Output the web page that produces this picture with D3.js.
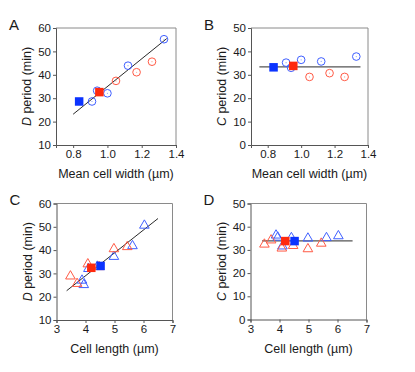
<!DOCTYPE html>
<html lang="en">
<head>
<meta charset="UTF-8">
<title>D and C period vs cell size</title>
<script src="https://d3js.org/d3.v7.min.js"></script>
<style>
  body { margin: 0; background: #fff; }
  svg text { font-family: "Liberation Sans", Arial, sans-serif; fill: #1a1a1a; }
</style>
</head>
<body>
<div id="chart"></div>
<script>
// ---- data ----
// mean cell width (um), open circles
var widthBlue = [0.91, 0.94, 1.00, 1.12, 1.33];
var widthRed = [1.05, 1.17, 1.26];
var dWidthBlue = [28.6, 33.2, 32.1, 43.9, 55.2];
var dWidthRed = [37.4, 41.1, 45.6];
var cWidthBlue = [35.2, 33.0, 36.4, 35.7, 37.8];
var cWidthRed = [29.1, 30.7, 29.1];

// cell length (um), open triangles
var lengthBlue = [3.88, 3.94, 4.10, 4.41, 4.98, 5.62, 6.03];
var lengthRed = [3.48, 3.71, 4.08, 4.47, 4.98, 5.44];
var dLengthBlue = [27.0, 25.1, 32.0, 33.0, 37.2, 41.8, 50.6];
var dLengthRed = [28.8, 25.6, 34.0, 32.8, 40.5, 41.4];
var cLengthBlue = [36.3, 35.4, 31.6, 35.2, 35.0, 35.2, 36.0];
var cLengthRed = [32.4, 34.2, 30.7, 31.8, 30.4, 32.8];

// population means (filled squares): [blue, red]
var meanWidth = [0.835, 0.953];
var meanLength = [4.52, 4.20];
var meanDWidth = [28.6, 32.6];
var meanCWidth = [33.2, 33.8];
var meanDLength = [33.2, 32.4];
var meanCLength = [33.8, 33.8];

// fitted lines: [x0, x1, intercept, slope]
var fitA = [0.80, 1.346, -24.2, 59.2];
var fitB = [0.75, 1.355, 33.4, 0];
var fitC = [3.35, 6.50, -10.4, 9.84];
var fitD = [3.40, 6.52, 33.9, 0];

var xTicksWidth = [0.8, 1.0, 1.2, 1.4];
var xTicksLength = [3, 4, 5, 6, 7];
var yTicksD = [10, 20, 30, 40, 50, 60];
var yTicksC = [0, 10, 20, 30, 40, 50];

var blue = "#3f5fff", red = "#ff5a45";
var blueFill = "#0b33ff", redFill = "#ff2a0e";

var svg = d3.select("#chart").append("svg")
    .attr("width", 415)
    .attr("height", 372);

function panel(p) {
    var g = svg.append("g");
    var x = d3.scaleLinear().domain(p.xDomain).range([p.left, p.left + p.w]);
    var y = d3.scaleLinear().domain(p.yDomain).range([p.top + p.h, p.top]);

    // frame: top and right in lighter grey
    g.append("path")
        .attr("d", "M" + p.left + "," + p.top + "H" + (p.left + p.w) + "V" + (p.top + p.h))
        .attr("fill", "none").attr("stroke", "#8a8a8a").attr("stroke-width", 1);

    var xAxis = g.append("g")
        .attr("transform", "translate(0," + (p.top + p.h) + ")")
        .call(d3.axisBottom(x).tickValues(p.xTicks).tickSize(3).tickPadding(2)
            .tickFormat(p.xFormat));
    var yAxis = g.append("g")
        .attr("transform", "translate(" + p.left + ",0)")
        .call(d3.axisLeft(y).tickValues(p.yTicks).tickSize(3).tickPadding(2));
    [xAxis, yAxis].forEach(function(a) {
        a.select(".domain").attr("stroke", "#555");
        a.selectAll(".tick line").attr("stroke", "#555");
        a.selectAll("text").style("font-size", "11.5px").attr("fill", "#1a1a1a");
    });

    // fitted line
    var f = p.fit;
    g.append("line")
        .attr("x1", x(f[0])).attr("y1", y(f[2] + f[3] * f[0]))
        .attr("x2", x(f[1])).attr("y2", y(f[2] + f[3] * f[1]))
        .attr("stroke", f[3] === 0 ? "#555" : "#111")
        .attr("stroke-width", f[3] === 0 ? 1.3 : 0.9);

    // open markers
    var sym = p.shape === "circle"
        ? d3.symbol().type(d3.symbolCircle).size(46)
        : d3.symbol().type(d3.symbolTriangle).size(40);
    [[p.xBlue, p.yBlue, blue], [p.xRed, p.yRed, red]].forEach(function(s) {
        var pts = s[0].map(function(v, i) { return [v, s[1][i]]; });
        g.selectAll(null).data(pts).enter().append("path")
            .attr("d", sym)
            .attr("transform", function(d) { return "translate(" + x(d[0]) + "," + y(d[1]) + ")"; })
            .attr("fill", "none").attr("stroke", s[2]).attr("stroke-width", 1);
        if (p.shape === "circle") {
            g.selectAll(null).data(pts).enter().append("circle")
                .attr("cx", function(d) { return x(d[0]); })
                .attr("cy", function(d) { return y(d[1]); })
                .attr("r", 0.6).attr("fill", s[2]).attr("opacity", 0.6);
        }
    });

    // mean squares
    var means = [[p.meanX[0], p.meanY[0], blueFill], [p.meanX[1], p.meanY[1], redFill]];
    g.selectAll(null).data(means).enter().append("rect")
        .attr("x", function(d) { return x(d[0]) - 4.25; })
        .attr("y", function(d) { return y(d[1]) - 4.25; })
        .attr("width", 8.5).attr("height", 8.5)
        .attr("fill", function(d) { return d[2]; });

    // axis titles
    g.append("text")
        .attr("x", p.left + p.w / 2).attr("y", p.top + p.h + 33)
        .attr("text-anchor", "middle").style("font-size", "12.5px")
        .text(p.xTitle);
    var yt = g.append("text")
        .attr("transform", "translate(" + (p.left - 25) + "," + (p.top + p.h / 2) + ") rotate(-90)")
        .attr("text-anchor", "middle").style("font-size", "12.5px");
    yt.append("tspan").style("font-style", "italic").text(p.yLetter);
    yt.append("tspan").text(" period (min)");

    // panel letter
    g.append("text")
        .attr("x", p.left - 47).attr("y", p.top + 1.5)
        .style("font-size", "15px")
        .text(p.label);
}

var fmtW = d3.format(".1f");
var fmtL = d3.format("d");

panel({ label: "A", left: 56, top: 28, w: 120, h: 117,
    xDomain: [0.7, 1.4], yDomain: [10, 60], xTicks: xTicksWidth, yTicks: yTicksD, xFormat: fmtW,
    xBlue: widthBlue, yBlue: dWidthBlue, xRed: widthRed, yRed: dWidthRed,
    meanX: meanWidth, meanY: meanDWidth, fit: fitA, shape: "circle",
    xTitle: "Mean cell width (\u00b5m)", yLetter: "D" });
panel({ label: "B", left: 251, top: 28, w: 117, h: 117,
    xDomain: [0.7, 1.4], yDomain: [0, 50], xTicks: xTicksWidth, yTicks: yTicksC, xFormat: fmtW,
    xBlue: widthBlue, yBlue: cWidthBlue, xRed: widthRed, yRed: cWidthRed,
    meanX: meanWidth, meanY: meanCWidth, fit: fitB, shape: "circle",
    xTitle: "Mean cell width (\u00b5m)", yLetter: "C" });
panel({ label: "C", left: 56.5, top: 203.5, w: 116, h: 116.5,
    xDomain: [3, 7], yDomain: [10, 60], xTicks: xTicksLength, yTicks: yTicksD, xFormat: fmtL,
    xBlue: lengthBlue, yBlue: dLengthBlue, xRed: lengthRed, yRed: dLengthRed,
    meanX: meanLength, meanY: meanDLength, fit: fitC, shape: "triangle",
    xTitle: "Cell length (\u00b5m)", yLetter: "D" });
panel({ label: "D", left: 250.5, top: 203.5, w: 116, h: 116,
    xDomain: [3, 7], yDomain: [0, 50], xTicks: xTicksLength, yTicks: yTicksC, xFormat: fmtL,
    xBlue: lengthBlue, yBlue: cLengthBlue, xRed: lengthRed, yRed: cLengthRed,
    meanX: meanLength, meanY: meanCLength, fit: fitD, shape: "triangle",
    xTitle: "Cell length (\u00b5m)", yLetter: "C" });
</script>
</body>
</html>
